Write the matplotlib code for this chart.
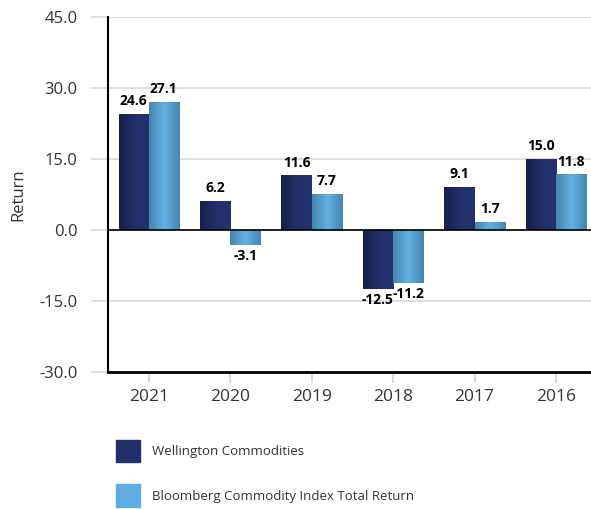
import numpy as np
import matplotlib
matplotlib.use("Agg")
import matplotlib.pyplot as plt
from matplotlib.colors import LinearSegmentedColormap
from matplotlib.patches import Patch

years = ["2021", "2020", "2019", "2018", "2017", "2016"]
wellington = [24.6, 6.2, 11.6, -12.5, 9.1, 15.0]
bloomberg = [27.1, -3.1, 7.7, -11.2, 1.7, 11.8]
series_names = ["Wellington Commodities", "Bloomberg Commodity Index Total Return"]

dark_c, light_c = "#22306a", "#5dade2"
dark_grad = LinearSegmentedColormap.from_list("dk", ["#18204a", "#22306a", "#24326e"])
light_grad = LinearSegmentedColormap.from_list("lt", ["#4684ad", "#62b2e3", "#4686b0"])

plt.rcParams["font.family"] = ["Open Sans", "DejaVu Sans"]

fig = plt.figure(figsize=(5.91, 5.09), dpi=100)
ax = fig.add_axes([108 / 591, 1 - 372 / 509, 1 - 108 / 591, 355 / 509])

x = np.arange(len(years))
w = 0.37
grad = np.linspace(0, 1, 64).reshape(1, -1)


def shaded_bars(xpos, vals, color, cmap):
    bars = ax.bar(xpos, vals, w, color=color, zorder=2)
    for b in bars:
        x0, y0 = b.get_x(), b.get_y()
        im = ax.imshow(grad, extent=[x0, x0 + b.get_width(), y0, y0 + b.get_height()],
                       aspect="auto", cmap=cmap, zorder=2.1, interpolation="bicubic")
        im.set_clip_path(b)
    return bars


b1 = shaded_bars(x - w / 2, wellington, dark_c, dark_grad)
b2 = shaded_bars(x + w / 2, bloomberg, light_c, light_grad)

ax.set_xlim(-0.5, 5.43)
ax.set_ylim(-30, 45)
ax.set_yticks(np.arange(-30, 46, 15))
ax.set_yticklabels([f"{v:.1f}" for v in np.arange(-30, 46, 15)])
ax.set_xticks(x)
ax.set_xticklabels(years)

ax.grid(axis="y", color="#d9d9d9", lw=1.2, zorder=0)
ax.axhline(0, color="black", lw=1.2, zorder=3)
for s in ["top", "right"]:
    ax.spines[s].set_visible(False)
ax.spines["left"].set_linewidth(1.5)
ax.spines["bottom"].set_linewidth(2)
ax.tick_params(axis="y", length=12, color="#d9d9d9", width=1.2, labelsize=12,
               labelcolor="#333333", pad=10)
ax.tick_params(axis="x", length=8, color="#d9d9d9", width=1.5, labelsize=12.5,
               labelcolor="#333333", pad=4)
ax.set_ylabel("Return", fontsize=12, color="#333333", labelpad=9)

for bars, vals in [(b1, wellington), (b2, bloomberg)]:
    for b, v in zip(bars, vals):
        cx = b.get_x() + b.get_width() / 2
        if v >= 0:
            ax.annotate(f"{v:.1f}", (cx, v), xytext=(0, 4), textcoords="offset points",
                        ha="center", va="bottom", fontsize=10, fontweight="bold")
        else:
            ax.annotate(f"{v:.1f}", (cx, v), xytext=(0, -3), textcoords="offset points",
                        ha="center", va="top", fontsize=10, fontweight="bold")

handles = [Patch(color=dark_c), Patch(color=light_c)]
fig.legend(handles, series_names, loc="upper left", bbox_to_anchor=(104 / 591, 1 - 428 / 509),
           frameon=False, fontsize=9.5, labelcolor="#333333", handlelength=1.8,
           handleheight=2.2, labelspacing=1.7, handletextpad=0.9)

fig.savefig("out.png", dpi=100)
